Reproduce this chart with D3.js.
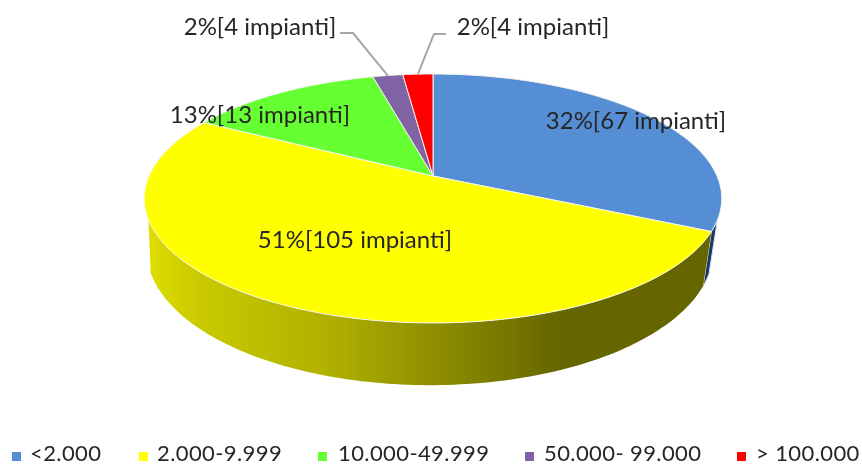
<!DOCTYPE html>
<html><head><meta charset="utf-8">
<script src="https://cdn.jsdelivr.net/npm/d3@7/dist/d3.min.js"></script>
<style>html,body{margin:0;padding:0;background:#fff;overflow:hidden}svg{display:block}text{font-family:Lato,"Noto Sans",sans-serif;fill:#262626}</style>
</head><body><svg id="c" width="862" height="466"></svg>
<script>
const categories = ["<2.000","2.000-9.999","10.000-49.999","50.000- 99.000","> 100.000"];
const shares = [32,51,13,2,2];
const plants = [67,105,13,4,4];
const colors = ["#558ed5","#ffff00","#66ff33","#8064a2","#ff0000"];
const wallColors = ["#1f3864","url(#wall)","#3d9a1f","#4d3c61","#990000"];

const svg = d3.select("#c");
// projective mapping of the pie disc
const cx=433, cy=176, k=0.1807, R=284, S=120.4;
const topRim = t=>{const u=Math.sin(t),v=-Math.cos(t),w=1-k*v;return [cx+R*u/w,cy+S*v/w];};
const botRim = t=>{const u=Math.sin(t),v=-Math.cos(t),w=1-k*v;return [430+278.6*u/w,cy+50+130.4*v/w];};
const arcs = d3.pie().sort(null).value(d=>d)(shares);
const line = d3.line();
const steps=(a,b)=>d3.range(0,121).map(i=>a+(b-a)*i/120);

const defs=svg.append("defs");
defs.append("filter").attr("id","soft")
  .attr("filterUnits","userSpaceOnUse").attr("x",0).attr("y",0).attr("width",862).attr("height",466)
  .append("feGaussianBlur").attr("stdDeviation",0.45);
const g=defs.append("linearGradient").attr("id","wall").attr("gradientUnits","userSpaceOnUse")
 .attr("x1",147).attr("x2",560).attr("y1",0).attr("y2",0);
[[0,"#dede00"],[0.13,"#c9c900"],[0.44,"#b0b000"],[0.8,"#808000"],[1,"#666600"]].forEach(s=>g.append("stop").attr("offset",s[0]).attr("stop-color",s[1]));
const root=svg.append("g").attr("filter","url(#soft)");

// walls: only the front part of the disc is visible
const vis0=Math.PI*0.611, vis1=Math.PI*1.39;
arcs.forEach((a,i)=>{
  const s=Math.max(a.startAngle,vis0), e=Math.min(a.endAngle,vis1);
  if(e<=s) return;
  const ts=steps(s,e);
  const pts=ts.map(topRim).concat(ts.slice().reverse().map(botRim));
  root.append("path").attr("d",line(pts)+"Z").attr("fill",wallColors[i]).attr("stroke",i==0?"#dfe6ef":"none").attr("stroke-width",1);
});
// top faces
arcs.forEach((a,i)=>{
  const pts=[[cx,cy]].concat(steps(a.startAngle,a.endAngle).map(topRim));
  root.append("path").attr("d",line(pts)+"Z").attr("fill",colors[i]).attr("stroke","#f4f4ee").attr("stroke-width",1).attr("stroke-linejoin","round");
});
// leader lines
const mid=a=>(a.startAngle+a.endAngle)/2;
const leader=[[arcs[3],[340,33],[353,33]],[arcs[4],[446,34],[434,34]]];
leader.forEach(([a,p1,p2])=>{
  root.append("path").attr("d",line([topRim(mid(a)),p2,p1])).attr("fill","none").attr("stroke","#a6a6a6").attr("stroke-width",2);
});
// labels
const labelText=i=>`${shares[i]}%[${plants[i]} impianti]`;
const labelPos=[[636,129],[355,248],[260,123],[260,35],[533,35]];
labelPos.forEach((p,i)=>root.append("text").attr("x",p[0]).attr("y",p[1]).attr("text-anchor","middle").attr("font-size",24).text(labelText(i)));
// legend
const legX=[12,139,318,525,737], legT=[30,157,338,544,756];
categories.forEach((c,i)=>{
  root.append("rect").attr("x",legX[i]).attr("y",452).attr("width",9).attr("height",9).attr("fill",colors[i]);
  root.append("text").attr("x",legT[i]).attr("y",461).attr("font-size",22).attr("letter-spacing",0.4).text(c);
});
</script></body></html>
